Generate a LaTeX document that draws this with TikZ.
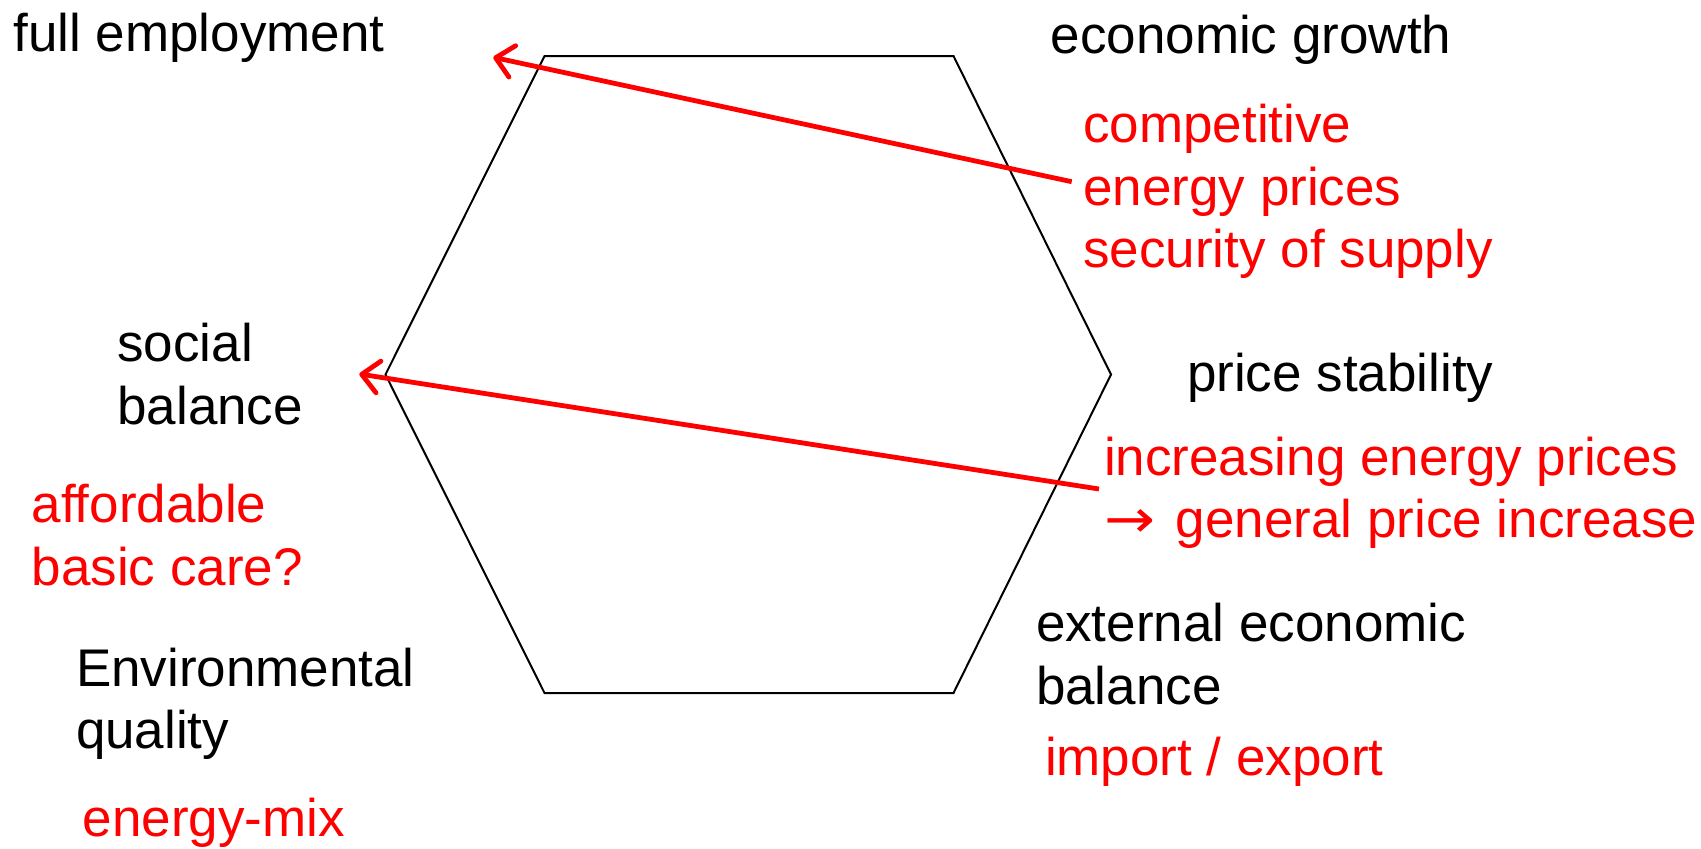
\documentclass[tikz,border=0pt]{standalone}
\usepackage{fontspec}
\setmainfont{Liberation Sans}
\newfontfamily\arrowfont{DejaVu Sans}
\usetikzlibrary{arrows.meta}
\newcommand{\lines}[1]{\begin{tabular}[t]{@{}l@{}}#1\end{tabular}}
\begin{document}
\begin{tikzpicture}[x=1pt,y=-1pt,
  lbl/.style={anchor=base west,inner sep=0pt,outer sep=0pt,font=\fontsize{53}{62.5}\selectfont},
  note/.style={lbl,text=red},
  hexline/.style={draw=black,line width=2pt,line join=miter},
  redarrow/.style={draw=red,line width=4.8pt,-{Straight Barb[length=17pt,width=32pt,line cap=round,line join=round]}}]
\useasboundingbox (0,0) rectangle (1701,849);

% hexagon
\coordinate (h1) at (544.5,56);
\coordinate (h2) at (953.5,56);
\coordinate (h3) at (1111,374.5);
\coordinate (h4) at (953.5,693);
\coordinate (h5) at (544.5,693);
\coordinate (h6) at (385.5,374.5);
\draw[hexline] (h1) -- (h2) -- (h3) -- (h4) -- (h5) -- (h6) -- cycle;

% black labels
\node[lbl] (fe) at (13.3,51.7) {full employment};
\node[lbl] (eg) at (1050.7,53.3) {economic growth};
\node[lbl] (sb) at (117.3,361.7) {\lines{social\\balance}};
\node[lbl] (ps) at (1187,391) {price stability};
\node[lbl] (eq) at (76,686) {\lines{Environmental\\quality}};
\node[lbl] (eb) at (1036,641.7) {\lines{external economic\\balance}};

% red notes
\node[note] (egnote) at (1083.3,142.7) {\lines{competitive\\energy prices\\security of supply}};
\node[note] (psnote) at (1104,475) {\lines{increasing energy prices\\\scalebox{1.15}[1]{\arrowfont →}\hspace{6pt} general price increase}};
\node[note] (sbnote) at (31.7,522.7) {\lines{affordable\\basic care?}};
\node[note] (ebnote) at (1045,775) {import / export};
\node[note] (eqnote) at (82.7,836.5) {energy-mix};

% arrows
\coordinate (a1tail) at (1071.7,181.7);
\coordinate (a1tip) at (493.3,57.3);
\coordinate (a2tail) at (1099,489);
\coordinate (a2tip) at (359.3,374);
\draw[redarrow] (a1tail) -- (a1tip);
\draw[redarrow] (a2tail) -- (a2tip);
\end{tikzpicture}
\end{document}
